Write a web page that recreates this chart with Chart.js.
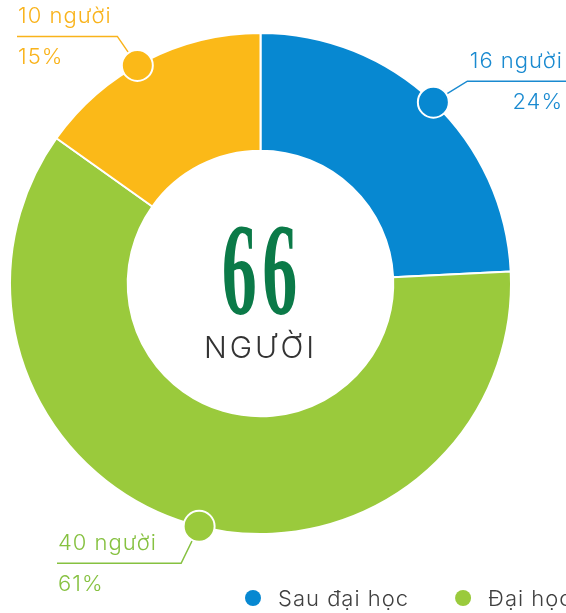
<!DOCTYPE html>
<html>
<head>
<meta charset="utf-8">
<title>Trình độ</title>
<script src="https://cdn.jsdelivr.net/npm/chart.js@4.4.0/dist/chart.umd.min.js"></script>
<style>
  html, body { margin: 0; padding: 0; background: #fff; overflow: hidden; }
  #wrap { width: 566px; height: 613px; }
</style>
</head>
<body>
<div id="wrap"><canvas id="trinhdo-chart"></canvas></div>
<script>
var categories = ['Sau đại học', 'Đại học', 'Cao đẳng'];
var counts = [16, 40, 10];
var percentLabels = ['24%', '61%', '15%'];
var totalLabel = '66';
var unitLabel = 'người';
var centerUnit = 'NGƯỜI';

var colors = ['#0788d1', '#9aca3c', '#fbb918'];
var textColors = ['#1a8ad0', '#86c140', '#f9b31b'];
var font = 'Inter';

// callout layout for each slice: where on the arc the dot sits, elbow offset, end of the rule
var callouts = [
  { at: 0.5, elbow: [34, -21], endX: 566, align: 'right', textX: 563 },
  { at: 0.49, elbow: [-18, 37], endX: 57, align: 'left', textX: 58 },
  { at: 0.46, elbow: [-20, -29], endX: 17, align: 'left', textX: 18 }
];

var calloutPlugin = {
  id: 'callouts',
  afterDraw: function(chart) {
    var ctx = chart.ctx;
    var arcs = chart.getDatasetMeta(0).data;
    arcs.forEach(function(el, i) {
      var c = callouts[i];
      var ang = el.startAngle + (el.endAngle - el.startAngle) * c.at;
      var px = el.x + Math.cos(ang) * el.outerRadius;
      var py = el.y + Math.sin(ang) * el.outerRadius;
      var ex = px + c.elbow[0], ey = py + c.elbow[1];
      ctx.save();
      ctx.strokeStyle = textColors[i];
      ctx.lineWidth = 1.5;
      ctx.beginPath();
      ctx.moveTo(px, py);
      ctx.lineTo(ex, ey);
      ctx.lineTo(c.endX, ey);
      ctx.stroke();

      ctx.beginPath();
      ctx.arc(px, py, 15.5, 0, Math.PI * 2);
      ctx.fillStyle = colors[i];
      ctx.fill();
      ctx.strokeStyle = '#fff';
      ctx.lineWidth = 2;
      ctx.stroke();

      ctx.fillStyle = textColors[i];
      ctx.textAlign = c.align;
      ctx.textBaseline = 'alphabetic';
      ctx.font = '300 22px ' + font;
      ctx.letterSpacing = '1px';
      ctx.fillText(counts[i] + ' ' + unitLabel, c.textX, ey - 13);
      ctx.fillText(percentLabels[i], c.textX, ey + 28);
      ctx.restore();
    });

    // centre total
    var cx = arcs[0].x, cy = arcs[0].y;
    ctx.save();
    ctx.fillStyle = '#0b7a48';
    ctx.textAlign = 'center';
    ctx.textBaseline = 'alphabetic';
    ctx.translate(cx - 1, 314);
    ctx.scale(0.53, 1);
    ctx.font = 'bold 132px "Liberation Serif"';
    ctx.letterSpacing = '10px';
    ctx.fillText(totalLabel, 5, 0);
    ctx.restore();

    ctx.save();
    ctx.fillStyle = '#333';
    ctx.textAlign = 'center';
    ctx.font = '300 30px ' + font;
    ctx.letterSpacing = '3px';
    ctx.fillText(centerUnit, cx, 358);
    ctx.restore();

    // legend
    ctx.save();
    ctx.font = '300 22px ' + font;
    ctx.letterSpacing = '1px';
    ctx.textBaseline = 'alphabetic';
    var x = 245;
    categories.forEach(function(name, i) {
      ctx.beginPath();
      ctx.arc(x + 8, 598, 8, 0, Math.PI * 2);
      ctx.fillStyle = colors[i];
      ctx.fill();
      ctx.fillStyle = '#404040';
      ctx.fillText(name, x + 33, 606);
      x += 33 + ctx.measureText(name).width + 46;
    });
    ctx.restore();
  }
};

new Chart(document.getElementById('trinhdo-chart'), {
  type: 'doughnut',
  data: {
    labels: categories,
    datasets: [{
      data: counts,
      backgroundColor: colors,
      borderColor: '#fff',
      borderWidth: 2,
      hoverOffset: 0
    }]
  },
  options: {
    responsive: true,
    maintainAspectRatio: false,
    animation: false,
    cutout: '53%',
    layout: { padding: { left: 9, top: 32, right: 54, bottom: 78 } },
    plugins: {
      legend: { display: false },
      tooltip: { enabled: false }
    }
  },
  plugins: [calloutPlugin]
});
</script>
</body>
</html>
